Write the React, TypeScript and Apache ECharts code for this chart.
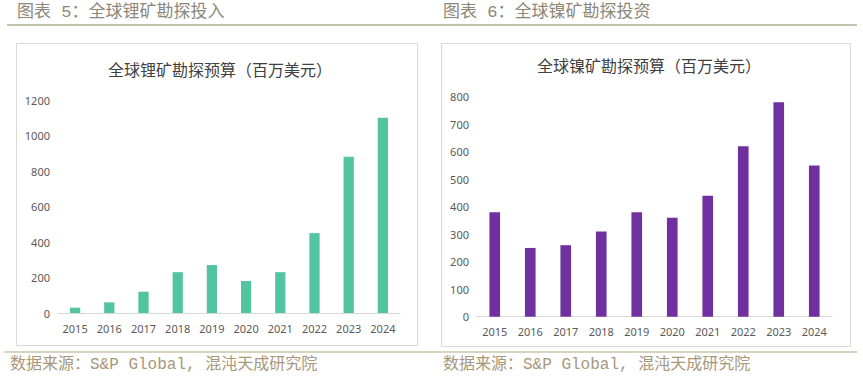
import React, { useEffect, useRef } from "react";
import * as echarts from "echarts";

const years = ["2015", "2016", "2017", "2018", "2019", "2020", "2021", "2022", "2023", "2024"];
const lithiumBudget = [30, 60, 120, 230, 270, 180, 230, 450, 880, 1100];
const nickelBudget = [380, 250, 260, 310, 380, 360, 440, 620, 780, 550];
const leftHeader = "图表 5：全球锂矿勘探投入";
const rightHeader = "图表 6：全球镍矿勘探投资";
const leftTitle = "全球锂矿勘探预算（百万美元）";
const rightTitle = "全球镍矿勘探预算（百万美元）";
const sourceText = "数据来源：S&P Global, 混沌天成研究院";

const CJK = "'Noto Sans CJK SC', 'Noto Sans', sans-serif";
const MONO_CJK = "'Liberation Mono', 'Noto Sans CJK SC', monospace";

export default function App() {
  const ref = useRef<HTMLDivElement>(null);
  useEffect(() => {
    if (!ref.current) return;
    const chart = echarts.init(ref.current, null, { renderer: "svg" });
    const axisLabel = {
      color: "#595959",
      fontSize: 11,
      fontFamily: "'Noto Sans', sans-serif",
    };
    chart.setOption({
      animation: false,
      backgroundColor: "#ffffff",
      title: [
        {
          text: leftTitle,
          left: 215,
          top: 56,
          textAlign: "center",
          textStyle: { fontSize: 16, fontWeight: "normal", color: "#404040", fontFamily: CJK },
        },
        {
          text: rightTitle,
          left: 644,
          top: 52,
          textAlign: "center",
          textStyle: { fontSize: 16, fontWeight: "normal", color: "#404040", fontFamily: CJK },
        },
      ],
      grid: [
        { left: 58, top: 100, width: 342, height: 213, containLabel: false },
        { left: 477, top: 96.7, width: 355, height: 220, containLabel: false },
      ],
      xAxis: [
        {
          type: "category",
          gridIndex: 0,
          data: years,
          axisLine: { lineStyle: { color: "#d9d9d9" } },
          axisTick: { show: false },
          axisLabel: { ...axisLabel, margin: 10 },
        },
        {
          type: "category",
          gridIndex: 1,
          data: years,
          axisLine: { lineStyle: { color: "#d9d9d9" } },
          axisTick: { show: false },
          axisLabel: { ...axisLabel, margin: 9 },
        },
      ],
      yAxis: [
        {
          type: "value",
          gridIndex: 0,
          min: 0,
          max: 1200,
          interval: 200,
          splitLine: { show: false },
          axisLine: { show: false },
          axisTick: { show: false },
          axisLabel: { ...axisLabel, margin: 8, formatter: (v: number) => String(v) },
        },
        {
          type: "value",
          gridIndex: 1,
          min: 0,
          max: 800,
          interval: 100,
          splitLine: { show: false },
          axisLine: { show: false },
          axisTick: { show: false },
          axisLabel: { ...axisLabel, margin: 8, formatter: (v: number) => String(v) },
        },
      ],
      series: [
        {
          type: "bar",
          xAxisIndex: 0,
          yAxisIndex: 0,
          data: lithiumBudget,
          barWidth: "30%",
          itemStyle: { color: "#52c5a0" },
        },
        {
          type: "bar",
          xAxisIndex: 1,
          yAxisIndex: 1,
          data: nickelBudget,
          barWidth: "30%",
          itemStyle: { color: "#7030a0" },
        },
      ],
      graphic: [
        {
          type: "text",
          left: 17,
          top: 4,
          style: { text: leftHeader, fontSize: 17, fill: "#8c8778", fontFamily: MONO_CJK },
        },
        {
          type: "text",
          left: 443,
          top: 4,
          style: { text: rightHeader, fontSize: 17, fill: "#8c8778", fontFamily: MONO_CJK },
        },
        {
          type: "line",
          shape: { x1: 7, y1: 25, x2: 857, y2: 25 },
          style: { stroke: "#b3ad90", lineWidth: 1.5 },
        },
        {
          type: "rect",
          shape: { x: 16.5, y: 43.5, width: 401, height: 302 },
          style: { fill: "none", stroke: "#d9d9d9", lineWidth: 1 },
        },
        {
          type: "rect",
          shape: { x: 441.5, y: 43.5, width: 409, height: 303 },
          style: { fill: "none", stroke: "#d9d9d9", lineWidth: 1 },
        },
        {
          type: "line",
          shape: { x1: 4, y1: 352, x2: 857, y2: 352 },
          style: { stroke: "#c9c4ad", lineWidth: 1.5 },
        },
        {
          type: "text",
          left: 10,
          top: 357,
          style: { text: sourceText, fontSize: 16, fill: "#a8977a", fontFamily: MONO_CJK },
        },
        {
          type: "text",
          left: 443,
          top: 357,
          style: { text: sourceText, fontSize: 16, fill: "#a8977a", fontFamily: MONO_CJK },
        },
      ],
    });
    return () => chart.dispose();
  }, []);
  return (
    <div
      ref={ref}
      style={{ position: "fixed", left: 0, top: 0, width: 863, height: 378, background: "#fff" }}
    />
  );
}
